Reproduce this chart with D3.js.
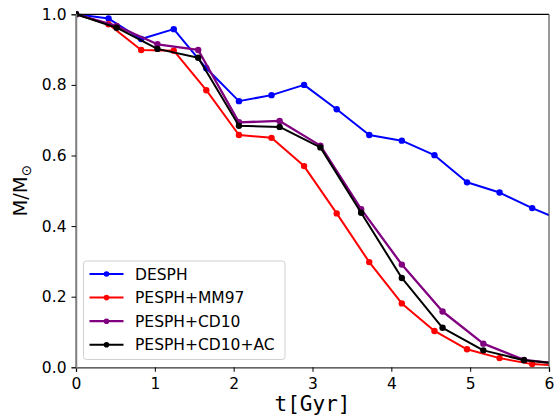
<!DOCTYPE html>
<html><head><meta charset="utf-8">
<script src="https://cdn.jsdelivr.net/npm/d3@7"></script>
<style>body{margin:0;background:#fff}svg{display:block}</style>
</head><body>
<script>
const tFine = [0, 0.413, 0.827, 1.24, 1.653, 2.067, 2.48, 2.893, 3.307, 3.72, 4.133, 4.547, 4.96, 5.373, 5.787, 6.2];
const tCoarse = [0, 0.516, 1.033, 1.55, 2.067, 2.583, 3.1, 3.617, 4.133, 4.65, 5.167, 5.683, 6.2];
const desph = [1.0, 0.988, 0.93, 0.958, 0.847, 0.754, 0.771, 0.800, 0.731, 0.658, 0.642, 0.601, 0.524, 0.495, 0.451, 0.412];
const mm97  = [1.0, 0.972, 0.899, 0.897, 0.785, 0.658, 0.650, 0.570, 0.436, 0.298, 0.181, 0.103, 0.051, 0.026, 0.009, 0.004];
const cd10  = [1.0, 0.967, 0.915, 0.899, 0.694, 0.698, 0.628, 0.448, 0.291, 0.158, 0.067, 0.021, 0.008];
const cd10ac= [1.0, 0.962, 0.902, 0.877, 0.684, 0.681, 0.623, 0.438, 0.253, 0.112, 0.048, 0.020, 0.008];
const seriesNames = ["DESPH", "PESPH+MM97", "PESPH+CD10", "PESPH+CD10+AC"];
const seriesColors = ["#0000ff", "#ff0000", "#800080", "#000000"];
const xTicks = [0, 1, 2, 3, 4, 5, 6];
const yTicks = [0.0, 0.2, 0.4, 0.6, 0.8, 1.0];

const series = [
  {name: seriesNames[0], color: seriesColors[0], t: tFine, v: desph, w: 2},
  {name: seriesNames[1], color: seriesColors[1], t: tFine, v: mm97, w: 2},
  {name: seriesNames[2], color: seriesColors[2], t: tCoarse, v: cd10, w: 2.3},
  {name: seriesNames[3], color: seriesColors[3], t: tCoarse, v: cd10ac, w: 2}
];

const W = 556, H = 418;
const L = 76, R = 549, T = 14.3, B = 367.3;
const x = d3.scaleLinear().domain([0, 6]).range([L, R]);
const y = d3.scaleLinear().domain([0, 1]).range([B, T]);
const font = "'DejaVu Sans', sans-serif";

const svg = d3.select("body").append("svg").attr("width", W).attr("height", H);
svg.append("defs").append("clipPath").attr("id", "clip")
  .append("rect").attr("x", L).attr("y", T - 4).attr("width", R - L).attr("height", B - T + 8);

const plot = svg.append("g").attr("clip-path", "url(#clip)");
const line = d3.line().x(d => x(d[0])).y(d => y(d[1]));
series.forEach(s => {
  const pts = s.t.map((t, i) => [t, s.v[i]]);
  plot.append("path").datum(pts).attr("d", line)
    .attr("fill", "none").attr("stroke", s.color).attr("stroke-width", s.w)
    .attr("stroke-linejoin", "round");
  plot.selectAll(null).data(pts).enter().append("circle")
    .attr("cx", d => x(d[0])).attr("cy", d => y(d[1])).attr("r", 3.2)
    .attr("fill", s.color);
});

// spines
svg.append("line").attr("x1", L).attr("x2", R).attr("y1", T).attr("y2", T).attr("stroke", "#000").attr("stroke-width", 1.2);
svg.append("line").attr("x1", R).attr("x2", R).attr("y1", T).attr("y2", B).attr("stroke", "#555").attr("stroke-width", 1.2);
svg.append("line").attr("x1", L).attr("x2", L).attr("y1", T).attr("y2", B).attr("stroke", "#808080").attr("stroke-width", 1.5);

// axes
const xAxis = svg.append("g").attr("transform", `translate(0,${B})`)
  .call(d3.axisBottom(x).tickValues(xTicks).tickFormat(d3.format("d")).tickSize(4.5).tickPadding(6));
const yAxis = svg.append("g").attr("transform", `translate(${L},0)`)
  .call(d3.axisLeft(y).tickValues(yTicks).tickFormat(d3.format(".1f")).tickSize(4.5).tickPadding(5));
[xAxis, yAxis].forEach(a => {
  a.selectAll("text").attr("font-family", font).attr("font-size", 15.5).attr("fill", "#000");
  a.selectAll(".tick line").attr("stroke", "#000").attr("stroke-width", 1);
});
xAxis.select(".domain").attr("stroke", "#333").attr("stroke-width", 1.3);
yAxis.select(".domain").attr("stroke", "#808080").attr("stroke-width", 1.5);

// axis labels
svg.append("text").attr("x", (L + R) / 2).attr("y", 411).attr("text-anchor", "middle")
  .attr("font-family", "'DejaVu Sans Mono', monospace").attr("font-size", 21).attr("fill", "#000")
  .text("t[Gyr]");
const yl = svg.append("text").attr("transform", `translate(27,${(T + B) / 2}) rotate(-90)`)
  .attr("text-anchor", "middle").attr("font-family", font).attr("font-size", 19.5).attr("fill", "#000");
yl.append("tspan").text("M/M");
yl.append("tspan").attr("font-size", 13.5).attr("dy", 4).text("⊙");

// legend
const lg = svg.append("g");
lg.append("rect").attr("x", 83.5).attr("y", 261).attr("width", 201.5).attr("height", 98.5)
  .attr("rx", 3).attr("fill", "#fff").attr("fill-opacity", 0.8).attr("stroke", "#d0d0d0").attr("stroke-width", 1);
series.forEach((s, i) => {
  const cy = 274 + i * 23.6;
  lg.append("line").attr("x1", 89.5).attr("x2", 123.5).attr("y1", cy).attr("y2", cy)
    .attr("stroke", s.color).attr("stroke-width", s.w);
  lg.append("circle").attr("cx", 106.5).attr("cy", cy).attr("r", 2.8).attr("fill", s.color);
  lg.append("text").attr("x", 135).attr("y", cy).attr("dy", "0.36em")
    .attr("font-family", font).attr("font-size", 15.5).attr("fill", "#000").text(s.name);
});
</script>
</body></html>
